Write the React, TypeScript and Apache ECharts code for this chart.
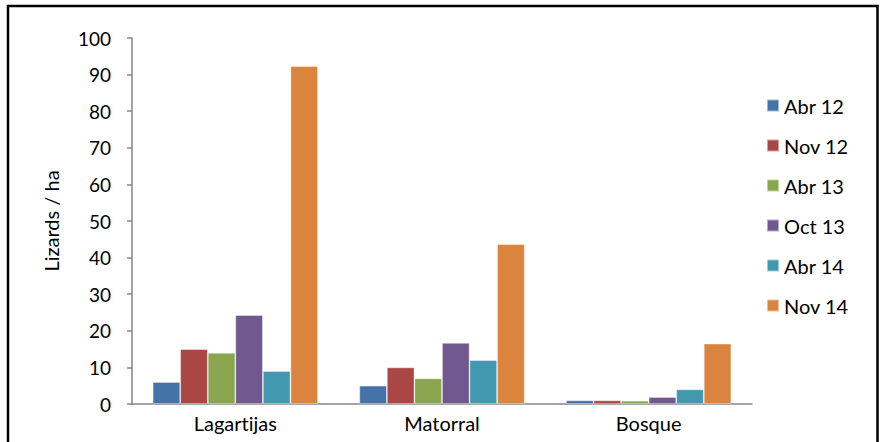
import React, { useEffect, useRef } from "react";
import * as echarts from "echarts";

const categories = ["Lagartijas", "Matorral", "Bosque"];
const seriesNames = ["Abr 12", "Nov 12", "Abr 13", "Oct 13", "Abr 14", "Nov 14"];
const abr12 = [6, 5, 1];
const nov12 = [15, 10, 1];
const abr13 = [14, 7, 0.9];
const oct13 = [24.3, 16.7, 1.9];
const abr14 = [9, 12, 4];
const nov14 = [92.3, 43.7, 16.5];
const seriesValues = [abr12, nov12, abr13, oct13, abr14, nov14];
const colors = ["#4572A7", "#AA4643", "#89A54E", "#71588F", "#4198AF", "#DB843D"];

const FONT = "Lato";

export default function App() {
  const ref = useRef<HTMLDivElement>(null);
  useEffect(() => {
    if (!ref.current) return;
    const chart = echarts.init(ref.current, undefined, { renderer: "svg" });
    chart.setOption({
      animation: false,
      backgroundColor: "#ffffff",
      color: colors,
      grid: { left: 132, right: 128, top: 38, bottom: 38 },
      legend: {
        orient: "vertical",
        left: 766,
        top: 95,
        padding: 0,
        itemWidth: 12,
        itemHeight: 12,
        itemGap: 19,
        icon: "rect",
        textStyle: { fontFamily: FONT, fontSize: 20, color: "#000", lineHeight: 21 },
        data: seriesNames,
      },
      xAxis: {
        type: "category",
        data: categories,
        axisLine: { lineStyle: { color: "#868686", width: 1.5 } },
        axisTick: { show: false },
        axisLabel: { fontFamily: FONT, fontSize: 20, color: "#000", margin: 9 },
      },
      yAxis: {
        type: "value",
        min: 0,
        max: 100,
        interval: 10,
        name: "Lizards / ha",
        nameLocation: "middle",
        nameRotate: 90,
        nameGap: 71,
        nameTextStyle: { fontFamily: FONT, fontSize: 20, color: "#000" },
        axisLine: { show: true, lineStyle: { color: "#868686", width: 1.5 } },
        axisTick: { show: true, length: 5, lineStyle: { color: "#868686", width: 1.5 } },
        splitLine: { show: false },
        axisLabel: { fontFamily: FONT, fontSize: 19, color: "#000", margin: 21 },
      },
      series: seriesNames.map((name, i) => ({
        name,
        type: "bar",
        data: seriesValues[i],
        barGap: "0%",
        barCategoryGap: "20%",
        itemStyle: { color: colors[i], borderColor: "rgba(255,255,255,0.5)", borderWidth: 0.8 },
      })),
      graphic: [
        {
          type: "polyline",
          shape: { points: [[8, 445], [8, 6], [877.5, 6], [877.5, 445]] },
          style: { stroke: "#000", lineWidth: 2.5, fill: "none" },
          silent: true,
        },
      ],
    });
    return () => chart.dispose();
  }, []);
  return (
    <>
      <style>{`svg text { font-variant-ligatures: none !important; font-feature-settings: "liga" 0, "clig" 0 !important; }`}</style>
      <div
        ref={ref}
        style={{ position: "absolute", left: 0, top: 0, width: 880, height: 442 }}
      />
    </>
  );
}
